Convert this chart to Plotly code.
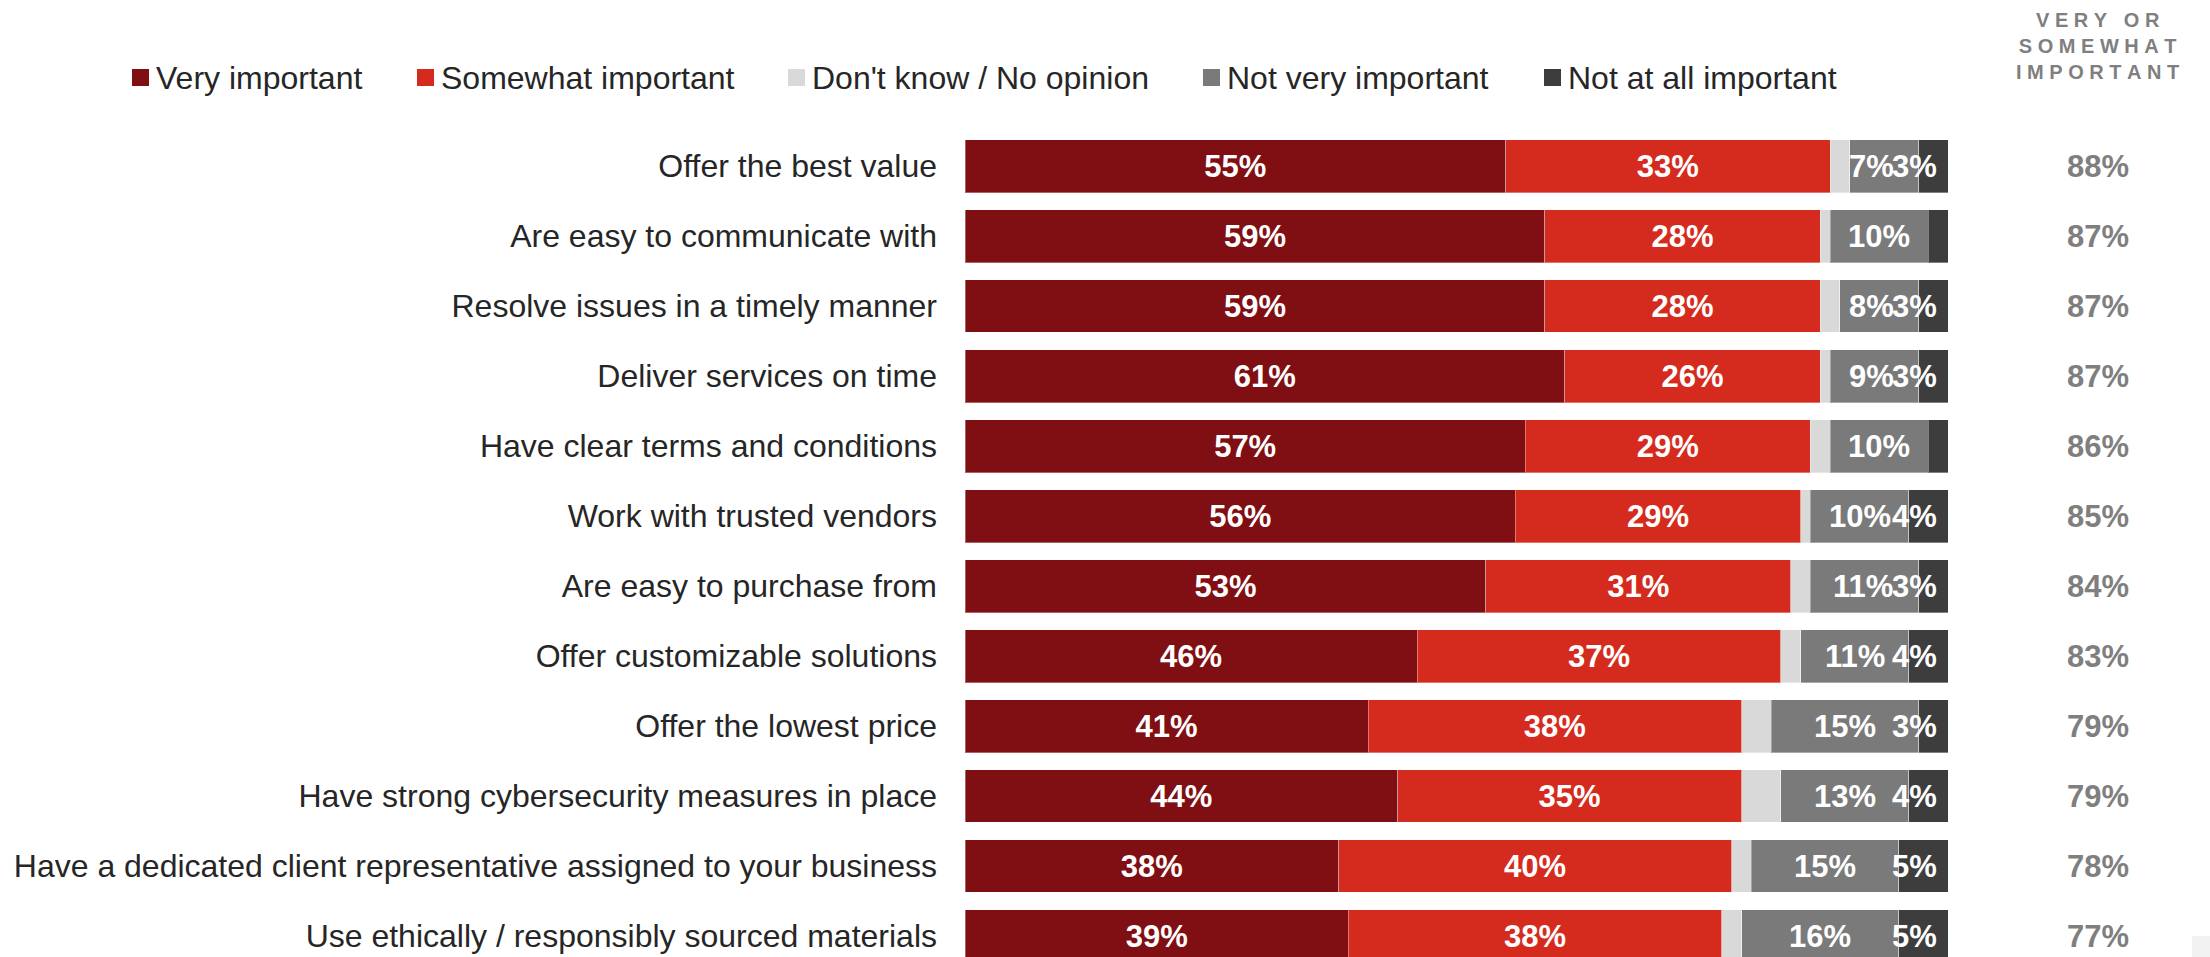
import plotly.graph_objects as go

# ---- data ----------------------------------------------------------------
categories = [
    "Offer the best value",
    "Are easy to communicate with",
    "Resolve issues in a timely manner",
    "Deliver services on time",
    "Have clear terms and conditions",
    "Work with trusted vendors",
    "Are easy to purchase from",
    "Offer customizable solutions",
    "Offer the lowest price",
    "Have strong cybersecurity measures in place",
    "Have a dedicated client representative assigned to your business",
    "Use ethically / responsibly sourced materials",
]
very_important = [55, 59, 59, 61, 57, 56, 53, 46, 41, 44, 38, 39]
somewhat_important = [33, 28, 28, 26, 29, 29, 31, 37, 38, 35, 40, 38]
dont_know = [2, 1, 2, 1, 2, 1, 2, 2, 3, 4, 2, 2]
not_very_important = [7, 10, 8, 9, 10, 10, 11, 11, 15, 13, 15, 16]
not_at_all_important = [3, 2, 3, 3, 2, 4, 3, 4, 3, 4, 5, 5]
very_or_somewhat = [88, 87, 87, 87, 86, 85, 84, 83, 79, 79, 78, 77]

series_names = ["Very important", "Somewhat important", "Don't know / No opinion",
                "Not very important", "Not at all important"]
series_colors = ["#7F0F12", "#D52B1E", "#D9D9D9", "#7A7A7A", "#3D3D3D"]

# ---- layout constants (pixels) --------------------------------------------
W, H = 2210, 957
L, R, T, B = 965, 262, 131, 0
PW, PH = W - L - R, H - T - B
FONT = "Liberation Sans, Arial, sans-serif"
LABEL_SIZE = 31


def px_x(px):
    return (px - L) / PW


def px_y(py):
    return 1 + (T - py) / PH


fig = go.Figure()

values = [very_important, somewhat_important, dont_know, not_very_important, not_at_all_important]
for i, (name, color, vals) in enumerate(zip(series_names, series_colors, values)):
    labelled = i < 2
    fig.add_trace(go.Bar(
        y=categories, x=vals, orientation="h", name=name,
        marker=dict(color=color, line=dict(color="rgba(255,255,255,0.35)", width=1)),
        text=[f"{v}%" for v in vals] if labelled else None,
        textposition="inside" if labelled else "none",
        insidetextanchor="middle",
        textangle=0,
        textfont=dict(family=FONT, size=LABEL_SIZE, color="white", weight="bold"),
        showlegend=False, hoverinfo="x+name",
    ))

annotations = []
px_per_unit = PW / 100.0


def text_width_px(s):
    return sum(0.889 if c == "%" else 0.556 for c in s) * LABEL_SIZE


# labels for the grey segments and the dark end segment
dark_label_left = 100 - (9 + text_width_px("3%")) / px_per_unit
for k, cat in enumerate(categories):
    start = very_important[k] + somewhat_important[k] + dont_know[k]
    nv = not_very_important[k]
    na = not_at_all_important[k]
    nv_txt = f"{nv}%"
    centre = start + nv / 2
    half = text_width_px(nv_txt) / 2 / px_per_unit
    if na >= 3 and centre + half > dark_label_left:
        centre = dark_label_left - half
    annotations.append(dict(
        x=centre, y=cat, xref="x", yref="y", text=nv_txt, showarrow=False,
        xanchor="center", yanchor="middle",
        font=dict(family=FONT, size=LABEL_SIZE, color="white", weight="bold"),
    ))
    if na >= 3:
        annotations.append(dict(
            x=100, y=cat, xref="x", yref="y", text=f"{na}%", showarrow=False,
            xanchor="right", yanchor="middle", xshift=-9,
            font=dict(family=FONT, size=LABEL_SIZE, color="white", weight="bold"),
        ))
    # right-hand total column
    annotations.append(dict(
        x=px_x(2098), y=cat, xref="paper", yref="y", text=f"{very_or_somewhat[k]}%",
        showarrow=False, xanchor="center", yanchor="middle",
        font=dict(family=FONT, size=LABEL_SIZE, color="#7F7F7F", weight="bold"),
    ))

# column header with wide letter spacing
nb = "\u00a0"
def spaced(word):
    return nb.join(word)

header = "<br>".join([
    spaced("VERY") + nb * 3 + spaced("OR"),
    spaced("SOMEWHAT"),
    spaced("IMPORTANT"),
])
annotations.append(dict(
    x=px_x(2097), y=px_y(46), xref="paper", yref="paper", text=header,
    showarrow=False, xanchor="center", yanchor="middle", align="center",
    font=dict(family=FONT, size=20, color="#7F7F7F", weight="bold"),
))

# legend row
shapes = []
legend_left = [132, 417, 788, 1203, 1544]
legend_cy = 77.5
sq = 17
for name, color, lx in zip(series_names, series_colors, legend_left):
    shapes.append(dict(
        type="rect", xref="paper", yref="paper",
        x0=px_x(lx), x1=px_x(lx + sq),
        y0=px_y(legend_cy + sq / 2), y1=px_y(legend_cy - sq / 2),
        fillcolor=color, line=dict(width=0),
    ))
    annotations.append(dict(
        x=px_x(lx + 22), y=px_y(legend_cy), xref="paper", yref="paper", text=name,
        showarrow=False, xanchor="left", yanchor="middle",
        font=dict(family=FONT, size=32, color="#262626"),
    ))

# small corner box
shapes.append(dict(
    type="rect", xref="paper", yref="paper",
    x0=px_x(2192), x1=px_x(2210), y0=px_y(957), y1=px_y(936),
    fillcolor="#F2F2F2", line=dict(width=0),
))

fig.update_layout(
    width=W, height=H,
    margin=dict(l=L, r=R, t=T, b=B, autoexpand=False),
    barmode="stack", bargap=0.243,
    plot_bgcolor="white", paper_bgcolor="white",
    font=dict(family=FONT, color="#262626"),
    xaxis=dict(range=[0, 100], visible=False, fixedrange=True),
    yaxis=dict(
        type="category", categoryorder="array", categoryarray=categories,
        range=[11.3, -0.5], showgrid=False, showline=False, zeroline=False,
        ticks="", ticklabelstandoff=27, automargin=False,
        tickfont=dict(family=FONT, size=32, color="#262626"), fixedrange=True,
    ),
    annotations=annotations, shapes=shapes,
    uniformtext=dict(minsize=LABEL_SIZE, mode="show"),
)

fig.write_html("out.html")
